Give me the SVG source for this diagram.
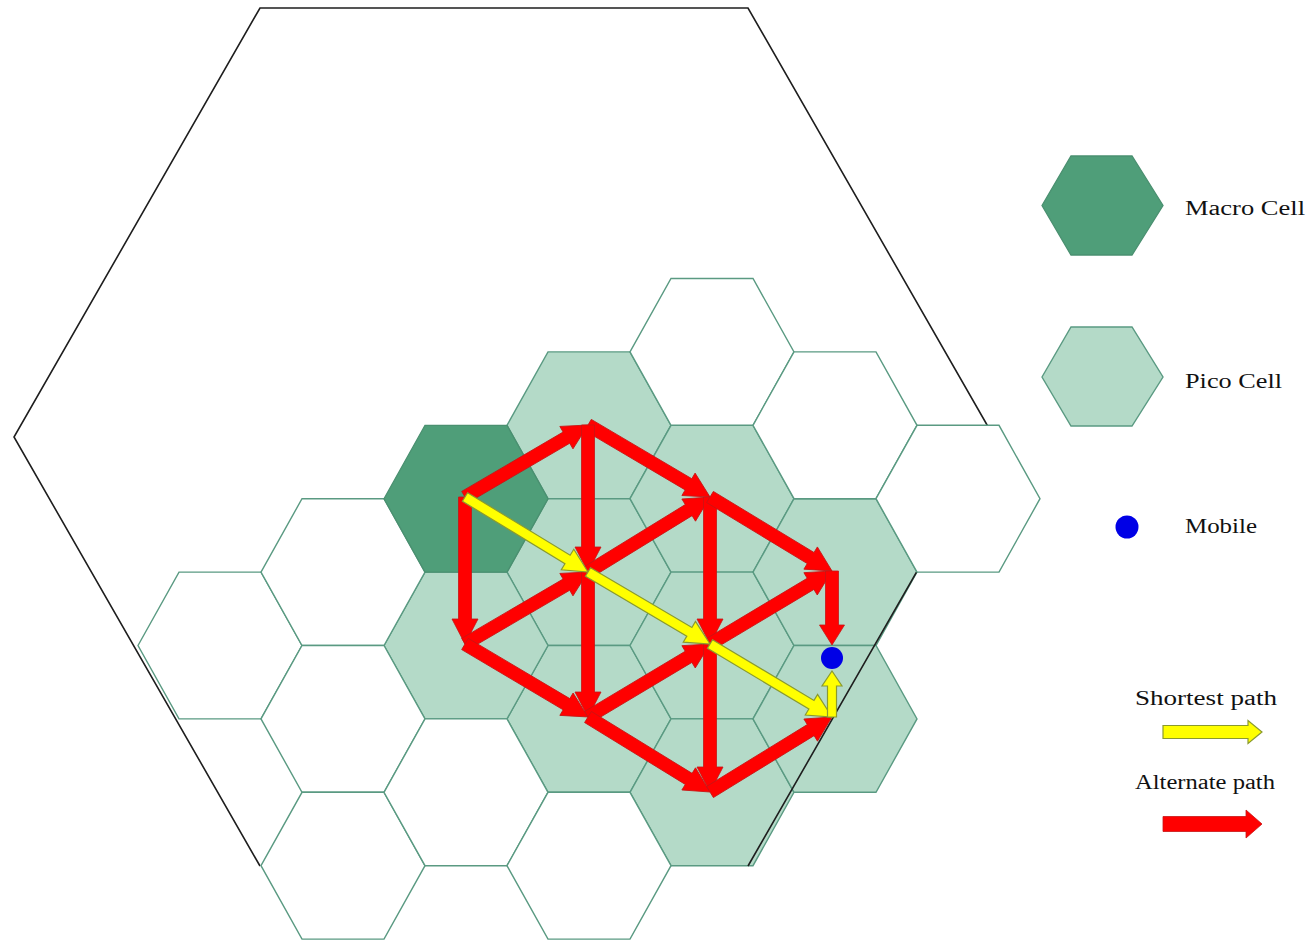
<svg xmlns="http://www.w3.org/2000/svg" width="1310" height="943" viewBox="0 0 1310 943">
<defs>
<style>
.white{fill:#ffffff;stroke:#5a9a82;stroke-width:1.4}
.pico{fill:#b4dac8;stroke:#5a9a82;stroke-width:1.4}
.macro{fill:#4f9e79;stroke:#4a9070;stroke-width:1.3}
.outer{fill:none;stroke:#1e1e1e;stroke-width:1.6}
.red{fill:#ff0000;stroke:#c81414;stroke-width:0.8}
.yel{fill:#ffff00;stroke:#8a9a30;stroke-width:1.2}
.lbl{font-family:"Liberation Serif","Times New Roman",serif;font-size:20px;fill:#111111}
.mob{fill:#0000e6}
</style>
<polygon id="hx" points="-82,0 -41,-73.4 41,-73.4 82,0 41,73.4 -41,73.4"/>
</defs>
<rect width="1310" height="943" fill="#ffffff"/>

<g id="pico-cells">
<g id="pico-589-425"><use href="#hx" x="589" y="425.3" class="pico"/></g>
<g id="pico-589-572"><use href="#hx" x="589" y="572.1" class="pico"/></g>
<g id="pico-589-719"><use href="#hx" x="589" y="718.9" class="pico"/></g>
<g id="pico-712-499"><use href="#hx" x="712" y="498.7" class="pico"/></g>
<g id="pico-712-645"><use href="#hx" x="712" y="645.5" class="pico"/></g>
<g id="pico-712-792"><use href="#hx" x="712" y="792.3" class="pico"/></g>
<g id="pico-835-572"><use href="#hx" x="835" y="572.1" class="pico"/></g>
<g id="pico-835-719"><use href="#hx" x="835" y="718.9" class="pico"/></g>
<g id="pico-466-645"><use href="#hx" x="466" y="645.5" class="pico"/></g>
</g>

<g id="macro-area">
<path class="outer" d="M260,866 L14,437 L260,8 L748,8 L994,437 L748,866"/>
</g>

<g id="empty-cells">
<g id="cell-220-645"><use href="#hx" x="220" y="645.5" class="white"/></g>
<g id="cell-343-572"><use href="#hx" x="343" y="572.1" class="white"/></g>
<g id="cell-343-719"><use href="#hx" x="343" y="718.9" class="white"/></g>
<g id="cell-343-866"><use href="#hx" x="343" y="865.7" class="white"/></g>
<g id="cell-466-792"><use href="#hx" x="466" y="792.3" class="white"/></g>
<g id="cell-589-866"><use href="#hx" x="589" y="865.7" class="white"/></g>
<g id="cell-712-352"><use href="#hx" x="712" y="351.9" class="white"/></g>
<g id="cell-835-425"><use href="#hx" x="835" y="425.3" class="white"/></g>
<g id="cell-958-499"><use href="#hx" x="958" y="498.7" class="white"/></g>
</g>

<g id="macro-cell"><use href="#hx" x="466" y="498.7" class="macro"/></g>

<g id="connectors">
<g id="alternate-paths">
<path class="red" transform="translate(465,497) rotate(-30.34)" d="M0,-6.5H117.5V-13L142.5,0L117.5,13V6.5H0Z"/>
<path class="red" transform="translate(588,425) rotate(30.55)" d="M0,-6.5H116.7V-13L141.7,0L116.7,13V6.5H0Z"/>
<path class="red" transform="translate(588,425) rotate(90)" d="M0,-6.5H122V-13L147,0L122,13V6.5H0Z"/>
<path class="red" transform="translate(465,497) rotate(90)" d="M0,-6.5H122V-13L147,0L122,13V6.5H0Z"/>
<path class="red" transform="translate(465,644) rotate(-30.34)" d="M0,-6.5H117.5V-13L142.5,0L117.5,13V6.5H0Z"/>
<path class="red" transform="translate(588,572) rotate(-31.58)" d="M0,-6.5H118.2V-13L143.2,0L118.2,13V6.5H0Z"/>
<path class="red" transform="translate(710,497) rotate(90)" d="M0,-6.5H122V-13L147,0L122,13V6.5H0Z"/>
<path class="red" transform="translate(710,497) rotate(31.24)" d="M0,-6.5H117.7V-13L142.7,0L117.7,13V6.5H0Z"/>
<path class="red" transform="translate(710,644) rotate(-30.89)" d="M0,-6.5H117.2V-13L142.2,0L117.2,13V6.5H0Z"/>
<path class="red" transform="translate(832,571) rotate(90)" d="M0,-6.5H54V-12.5L74,0L54,12.5V6.5H0Z"/>
<path class="red" transform="translate(465,644) rotate(30.68)" d="M0,-6.5H118V-13L143,0L118,13V6.5H0Z"/>
<path class="red" transform="translate(588,572) rotate(90)" d="M0,-6.5H120V-13L145,0L120,13V6.5H0Z"/>
<path class="red" transform="translate(588,717) rotate(-30.89)" d="M0,-6.5H117.2V-13L142.2,0L117.2,13V6.5H0Z"/>
<path class="red" transform="translate(588,717) rotate(31.58)" d="M0,-6.5H118.2V-13L143.2,0L118.2,13V6.5H0Z"/>
<path class="red" transform="translate(710,644) rotate(90)" d="M0,-6.5H123V-13L148,0L123,13V6.5H0Z"/>
<path class="red" transform="translate(710,792) rotate(-31.58)" d="M0,-6.5H118.2V-13L143.2,0L118.2,13V6.5H0Z"/>
</g>
<g id="shortest-path">
<path class="yel" transform="translate(465,497) rotate(31.37)" d="M0,-5H120.1V-12L144.1,0L120.1,12V5H0Z"/>
<path class="yel" transform="translate(588,572) rotate(30.55)" d="M0,-5H117.7V-12L141.7,0L117.7,12V5H0Z"/>
<path class="yel" transform="translate(710,644) rotate(30.89)" d="M0,-5H118.2V-12L142.2,0L118.2,12V5H0Z"/>
<path class="yel" transform="translate(832,717) rotate(-90)" d="M0,-4.5H31V-10L46,0L31,10V4.5H0Z"/>
</g>
</g>

<g id="mobile"><circle class="mob" cx="832" cy="658" r="11"/></g>

<g id="legend">
<g id="legend-macro">
<polygon class="macro" points="1042,205.5 1071,156 1132,156 1163,205.5 1132,255 1071,255"/>
<text class="lbl" x="1185" y="215" textLength="120" lengthAdjust="spacingAndGlyphs">Macro Cell</text>
</g>
<g id="legend-pico">
<polygon class="pico" points="1042,377 1071,327 1132,327 1163,377 1132,426 1071,426"/>
<text class="lbl" x="1185" y="388" textLength="97" lengthAdjust="spacingAndGlyphs">Pico Cell</text>
</g>
<g id="legend-mobile">
<circle class="mob" cx="1127" cy="527" r="11.5"/>
<text class="lbl" x="1185" y="533" textLength="72" lengthAdjust="spacingAndGlyphs">Mobile</text>
</g>
<g id="legend-shortest">
<text class="lbl" x="1135" y="705" textLength="142" lengthAdjust="spacingAndGlyphs">Shortest path</text>
<path class="yel" transform="translate(1163,732)" d="M0,-6.5H85V-11.5L99,0L85,11.5V6.5H0Z"/>
</g>
<g id="legend-alternate">
<text class="lbl" x="1135" y="789" textLength="140" lengthAdjust="spacingAndGlyphs">Alternate path</text>
<path class="red" transform="translate(1163,824)" d="M0,-7.5H83V-14L99,0L83,14V7.5H0Z"/>
</g>
</g>
</svg>
